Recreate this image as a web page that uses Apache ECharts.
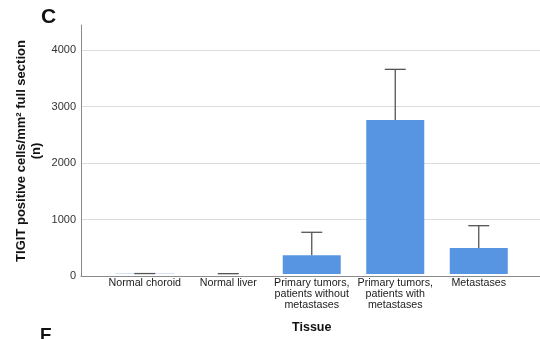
<!DOCTYPE html>
<html>
<head>
<meta charset="utf-8">
<script src="https://cdn.jsdelivr.net/npm/echarts@6/dist/echarts.min.js"></script>
<style>html,body{margin:0;padding:0;background:#fff}#c{width:540px;height:339px}</style>
</head>
<body>
<div id="c"></div>
<script>
const categories = ['Normal choroid', 'Normal liver', 'Primary tumors,\npatients without\nmetastases', 'Primary tumors,\npatients with\nmetastases', 'Metastases'];
const means = [3, 2, 334, 2752, 464];
const upperErr = [8, 6, 745, 3656, 863];
const yTicks = [0, 1000, 2000, 3000, 4000];
const yTitle = 'TIGIT positive cells/mm² full section\n(n)';

const font = 'Liberation Sans, Arial, Helvetica, sans-serif';
const chart = echarts.init(document.getElementById('c'), null, {renderer: 'canvas'});
const errData = categories.map((c, i) => [i, means[i], upperErr[i]]);

chart.setOption({
  animation: false,
  grid: [
    {left: 81, right: 0, top: 25, bottom: 63},
    {left: 103, right: 19.5, top: 25, bottom: 63}
  ],
  xAxis: [
    {gridIndex: 0, type: 'value', min: 0, max: 1, axisLabel: {show: false}, axisTick: {show: false}, splitLine: {show: false},
     axisLine: {show: true, lineStyle: {color: '#8a8a8a', width: 1}}},
    {gridIndex: 1, type: 'category', data: categories, axisLine: {show: false}, axisTick: {show: false},
     axisLabel: {interval: 0, margin: 4, fontFamily: font, fontSize: 10.7, color: '#222', lineHeight: 11},
     name: 'Tissue', nameLocation: 'middle', nameGap: 47,
     nameTextStyle: {fontFamily: font, fontSize: 12.5, fontWeight: 'bold', color: '#111'}}
  ],
  yAxis: [
    {gridIndex: 0, type: 'value', min: 0, max: 4448, interval: 1000,
     axisLine: {show: true, lineStyle: {color: '#8a8a8a', width: 1}}, axisTick: {show: false},
     axisLabel: {margin: 5, fontFamily: font, fontSize: 11, color: '#333',
       formatter: v => yTicks.indexOf(v) >= 0 ? String(v) : ''},
     splitLine: {show: true, showMaxLine: false, showMinLine: false, lineStyle: {color: '#dcdcdc', width: 1}}},
    {gridIndex: 1, type: 'value', min: 0, max: 4448, interval: 1000, show: false}
  ],
  series: [
    {type: 'bar', xAxisIndex: 1, yAxisIndex: 1, data: means, barWidth: 58,
     itemStyle: {color: '#5795e3'}},
    {type: 'custom', xAxisIndex: 1, yAxisIndex: 1, data: errData, z: 5,
     renderItem: function (params, api) {
       const x = api.value(0);
       const lo = api.coord([x, api.value(1)]);
       const hi = api.coord([x, api.value(2)]);
       const hw = 10.5;
       const st = {stroke: '#555', lineWidth: 1.3};
       return {type: 'group', children: [
         {type: 'line', shape: {x1: lo[0], y1: lo[1], x2: hi[0], y2: hi[1]}, style: st},
         {type: 'line', shape: {x1: hi[0] - hw, y1: hi[1], x2: hi[0] + hw, y2: hi[1]}, style: st}
       ]};
     }}
  ],
  graphic: [
    {type: 'text', x: 29, y: 151, rotation: Math.PI / 2,
     style: {text: yTitle, font: 'bold 13px ' + font, fill: '#111', align: 'center', verticalAlign: 'middle', lineHeight: 15}},
    {type: 'text', left: 41, top: 7, style: {text: 'C', font: 'bold 21px ' + font, fill: '#111'}},
    {type: 'text', left: 40, top: 327, style: {text: 'E', font: 'bold 18px ' + font, fill: '#111'}}
  ]
});
</script>
</body>
</html>
